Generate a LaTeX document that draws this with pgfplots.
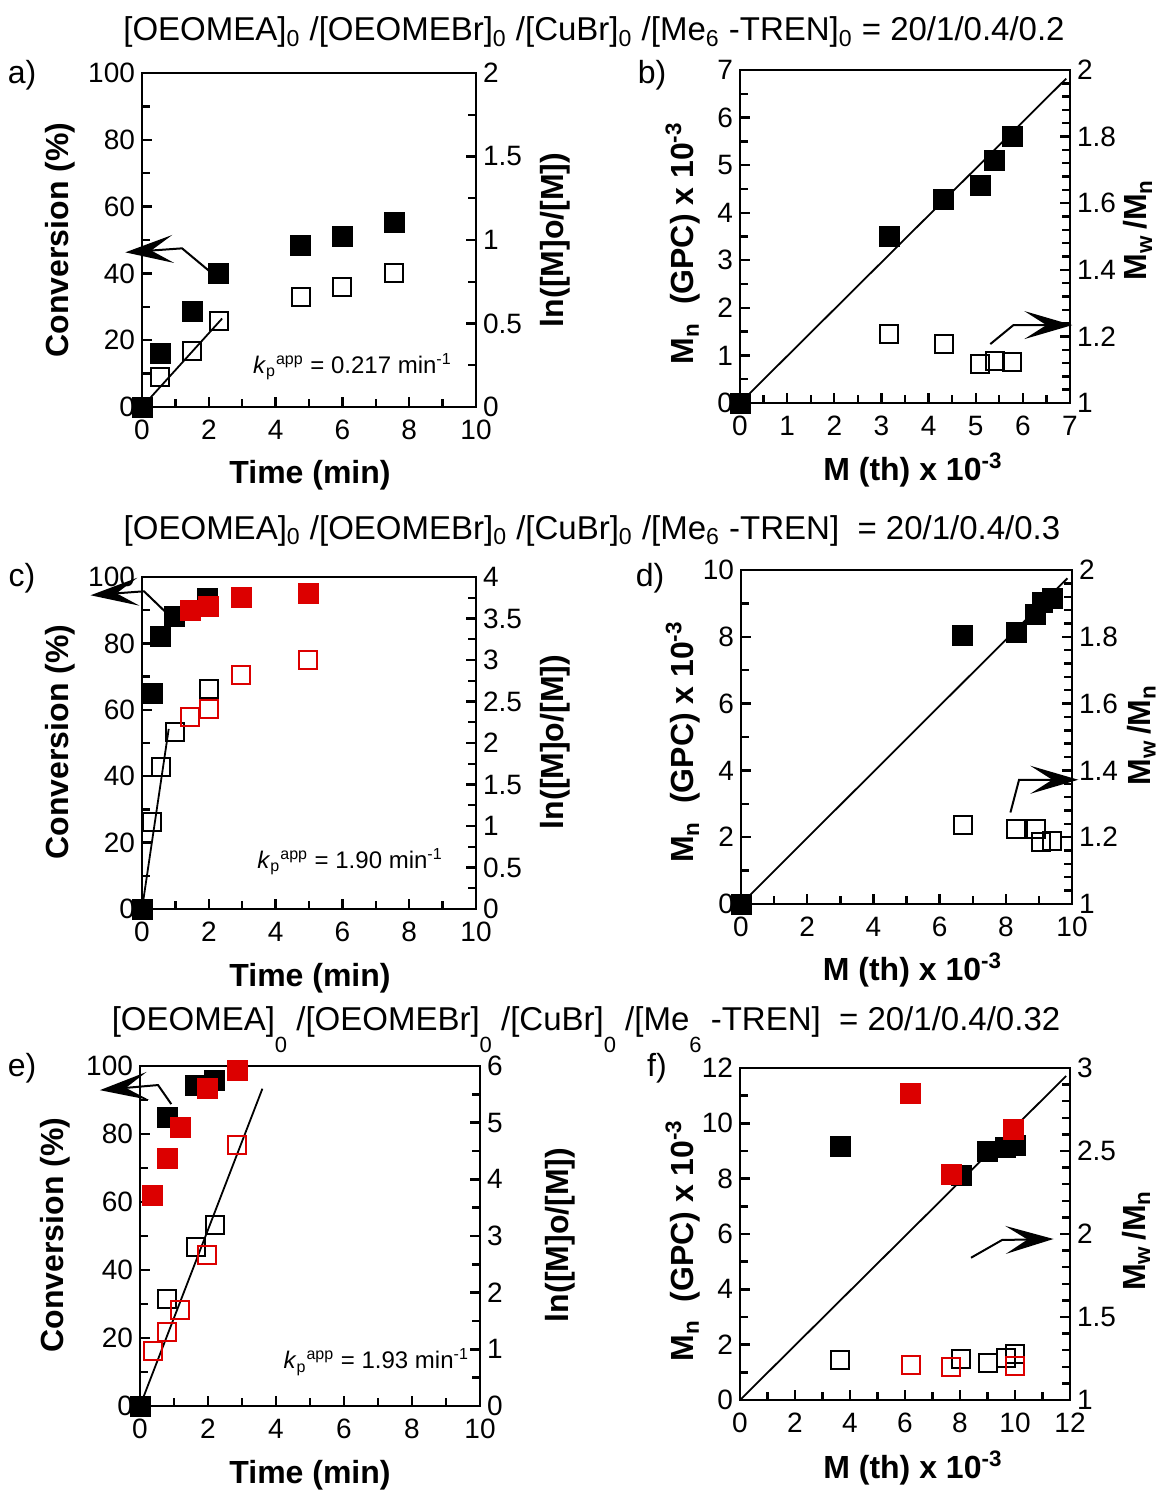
\documentclass[border=0pt]{standalone}
\usepackage{fontspec}
\setmainfont{Liberation Sans}
\usepackage{pgfplots}
\pgfplotsset{compat=1.18}
\usetikzlibrary{arrows.meta}
\definecolor{mred}{RGB}{220,0,0}

\pgfplotsset{
  pan/.style={
    scale only axis, clip=false, anchor=south west,
    axis line style={line width=1.4pt},
    tick align=inside,
    major tick length=5pt, minor tick length=4pt,
    tick style={line width=1.2pt, black},
    tick label style={font=\fontsize{14}{16}\selectfont},
    xticklabel style={yshift=-3pt},
    label style={font=\bfseries\fontsize{16}{19}\selectfont},
    /pgf/number format/assume math mode=true,
  },
  main/.style={pan, xtick pos=left, ytick pos=left},
  second/.style={pan, axis y line*=right, axis x line=none},
  fsq/.style={only marks, mark=square*, mark size=5pt, black},
  rfsq/.style={only marks, mark=square*, mark size=5pt, mred},
  osq/.style={only marks, mark=square, mark size=4.5pt, mark options={line width=1pt}, black},
  rosq/.style={only marks, mark=square, mark size=4.5pt, mark options={line width=1pt}, mred},
  fit/.style={black, line width=0.9pt, no marks},
}
\tikzset{arr/.style={line width=1pt, -{Stealth[length=24pt,width=14pt,inset=11pt]}}}
\newcommand\kp[1]{\textit{k}\textsubscript{p}\textsuperscript{app} = #1 min\textsuperscript{-1}}
\newcommand\lsub[1]{\raisebox{-1.3ex}{\fontsize{11}{11}\selectfont #1}}

\begin{document}
\begin{tikzpicture}
\useasboundingbox (0,0) rectangle (586.5pt,-746.5pt);

% titles and panel letters
\begin{scope}[every node/.style={font=\fontsize{16.5}{18}\selectfont}]
\node[anchor=base] at (297pt,-20.5pt) {[OEOMEA]\textsubscript{0} /[OEOMEBr]\textsubscript{0} /[CuBr]\textsubscript{0} /[Me\textsubscript{6} -TREN]\textsubscript{0} = 20/1/0.4/0.2};
\node[anchor=base] at (296pt,-269.5pt) {[OEOMEA]\textsubscript{0} /[OEOMEBr]\textsubscript{0} /[CuBr]\textsubscript{0} /[Me\textsubscript{6} -TREN]\ \ = 20/1/0.4/0.3};
\node[anchor=base] at (293pt,-515pt) {[OEOMEA]\lsub{0} /[OEOMEBr]\lsub{0} /[CuBr]\lsub{0} /[Me\lsub{6} -TREN]\ \ = 20/1/0.4/0.32};
\end{scope}
\begin{scope}[every node/.style={font=\fontsize{16}{18}\selectfont}]
\node at (11pt,-37.5pt) {a)};
\node at (326pt,-37.5pt) {b)};
\node at (11pt,-289pt) {c)};
\node at (325pt,-289pt) {d)};
\node at (11pt,-534pt) {e)};
\node at (328.5pt,-534pt) {f)};
\end{scope}

% ---------- a) ----------
\begin{axis}[main, at={(71pt,-203.5pt)}, width=167pt, height=167pt,
  xmin=0, xmax=10, ymin=0, ymax=100,
  xtick={0,2,...,10}, ytick={0,20,...,100}, minor tick num=1,
  xlabel={Time (min)}, ylabel={Conversion (\%)},
  xlabel style={at={(axis description cs:0.503,-0.204)}, anchor=center},
  ylabel style={at={(axis description cs:-0.246,0.5)}, anchor=center}]
\addplot[fsq] coordinates {(0,0) (0.55,16) (1.5,28.5) (2.3,40) (4.75,48.3) (6,51.2) (7.55,55.2)};
\draw[arr] (2.1,40) -- (1.2,47.5) -- (-0.5,46.3);
\node[font=\fontsize{12}{14}\selectfont] at (6.3,12) {\kp{0.217}};
\end{axis}
\begin{axis}[second, at={(71pt,-203.5pt)}, width=167pt, height=167pt,
  xmin=0, xmax=10, ymin=0, ymax=2,
  ytick={0,0.5,...,2}, minor y tick num=1,
  ylabel={ln([M]o/[M])},
  ylabel style={at={(axis description cs:1.237,0.5)}, anchor=center, rotate=0}]
\addplot[fit] coordinates {(0,0) (2.4,0.53)};
\addplot[osq] coordinates {(0.55,0.18) (1.5,0.335) (2.3,0.515) (4.75,0.66) (6,0.72) (7.55,0.80)};
\end{axis}

% ---------- b) ----------
\begin{axis}[main, at={(370pt,-201.5pt)}, width=165pt, height=166.5pt,
  xmin=0, xmax=7, ymin=0, ymax=7,
  xtick={0,1,...,7}, ytick={0,1,...,7}, minor tick num=1,
  xlabel={M (th) x 10\textsuperscript{-3}}, ylabel={M\textsubscript{n}\ \ (GPC) x 10\textsuperscript{-3}},
  xlabel style={at={(axis description cs:0.524,-0.201)}, anchor=center},
  ylabel style={at={(axis description cs:-0.173,0.48)}, anchor=center}]
\addplot[fit] coordinates {(0,0) (6.92,6.82)};
\addplot[fsq] coordinates {(0,0) (3.17,3.5) (4.32,4.28) (5.1,4.58) (5.4,5.1) (5.77,5.6)};
\end{axis}
\begin{axis}[second, at={(370pt,-201.5pt)}, width=165pt, height=166.5pt,
  xmin=0, xmax=7, ymin=1, ymax=2,
  ytick={1,1.2,1.4,1.6,1.8,2}, minor y tick num=4,
  ylabel={M\textsubscript{w}\,/M\textsubscript{n}},
  ylabel style={at={(axis description cs:1.206,0.52)}, anchor=center, rotate=0}]
\addplot[osq] coordinates {(3.17,1.208) (4.32,1.178) (5.1,1.118) (5.41,1.127) (5.77,1.122)};
\draw[arr] (5.31,1.177) -- (5.8,1.234) -- (7.05,1.234);
\end{axis}

% ---------- c) ----------
\begin{axis}[main, at={(71pt,-454.5pt)}, width=167pt, height=166pt,
  xmin=0, xmax=10, ymin=0, ymax=100,
  xtick={0,2,...,10}, ytick={0,20,...,100}, minor tick num=1,
  xlabel={Time (min)}, ylabel={Conversion (\%)},
  xlabel style={at={(axis description cs:0.503,-0.208)}, anchor=center},
  ylabel style={at={(axis description cs:-0.246,0.503)}, anchor=center}]
\addplot[fsq] coordinates {(0,0) (0.3,65) (0.56,82) (0.98,88) (1.97,93.5)};
\addplot[rfsq] coordinates {(1.45,90) (2.0,91) (2.97,94) (4.98,95)};
\draw[arr] (0.69,89.6) -- (0.06,95.7) -- (-1.54,94.5);
\node[font=\fontsize{12}{14}\selectfont] at (6.23,14.2) {\kp{1.90}};
\end{axis}
\begin{axis}[second, at={(71pt,-454.5pt)}, width=167pt, height=166pt,
  xmin=0, xmax=10, ymin=0, ymax=4,
  ytick={0,0.5,...,4}, minor y tick num=1,
  ylabel={ln([M]o/[M])},
  ylabel style={at={(axis description cs:1.237,0.503)}, anchor=center, rotate=0}]
\addplot[fit] coordinates {(0,0) (0.8,2.17)};
\addplot[osq] coordinates {(0.29,1.05) (0.57,1.71) (0.99,2.13) (2.0,2.65)};
\addplot[rosq] coordinates {(1.45,2.31) (2.0,2.41) (2.97,2.82) (4.98,3.0)};
\end{axis}

% ---------- d) ----------
\begin{axis}[main, at={(370.5pt,-452pt)}, width=165.5pt, height=167pt,
  xmin=0, xmax=10, ymin=0, ymax=10,
  xtick={0,2,...,10}, ytick={0,2,...,10}, minor tick num=1,
  xlabel={M (th) x 10\textsuperscript{-3}}, ylabel={M\textsubscript{n}\ \ (GPC) x 10\textsuperscript{-3}},
  xlabel style={at={(axis description cs:0.518,-0.198)}, anchor=center},
  ylabel style={at={(axis description cs:-0.175,0.485)}, anchor=center}]
\addplot[fit] coordinates {(0,0) (9.86,9.75)};
\addplot[fsq] coordinates {(0,0) (6.7,8.03) (8.32,8.13) (8.9,8.68) (9.1,9.03) (9.4,9.15)};
\end{axis}
\begin{axis}[second, at={(370.5pt,-452pt)}, width=165.5pt, height=167pt,
  xmin=0, xmax=10, ymin=1, ymax=2,
  ytick={1,1.2,1.4,1.6,1.8,2}, minor y tick num=4,
  ylabel={M\textsubscript{w}\,/M\textsubscript{n}},
  ylabel style={at={(axis description cs:1.21,0.506)}, anchor=center, rotate=0}]
\addplot[osq] coordinates {(6.7,1.238) (8.32,1.225) (8.9,1.225) (9.06,1.187) (9.41,1.188)};
\draw[arr] (8.14,1.274) -- (8.4,1.372) -- (10.19,1.372);
\end{axis}

% ---------- e) ----------
\begin{axis}[main, at={(70pt,-703pt)}, width=170pt, height=170pt,
  xmin=0, xmax=10, ymin=0, ymax=100,
  xtick={0,2,...,10}, ytick={0,20,...,100}, minor tick num=1,
  xlabel={Time (min)}, ylabel={Conversion (\%)},
  xlabel style={at={(axis description cs:0.5,-0.203)}, anchor=center},
  ylabel style={at={(axis description cs:-0.25,0.503)}, anchor=center}]
\addplot[fsq] coordinates {(0,0) (0.8,85) (1.62,94.2) (2.2,95.7)};
\addplot[rfsq] coordinates {(0.37,62) (0.8,72.8) (1.18,81.9) (1.98,93.3) (2.86,98.7)};
\draw[arr] (0.92,88.8) -- (0.53,94.4) -- (-1.18,92.9);
\node[font=\fontsize{12}{14}\selectfont] at (6.95,12.9) {\kp{1.93}};
\end{axis}
\begin{axis}[second, at={(70pt,-703pt)}, width=170pt, height=170pt,
  xmin=0, xmax=10, ymin=0, ymax=6,
  ytick={0,1,...,6}, minor y tick num=1,
  ylabel={ln([M]o/[M])},
  ylabel style={at={(axis description cs:1.235,0.503)}, anchor=center, rotate=0}]
\addplot[fit] coordinates {(0,0) (3.6,5.6)};
\addplot[osq] coordinates {(0.8,1.88) (1.64,2.81) (2.2,3.2)};
\addplot[rosq] coordinates {(0.37,0.97) (0.8,1.3) (1.18,1.7) (1.98,2.66) (2.86,4.6)};
\end{axis}

% ---------- f) ----------
\begin{axis}[main, at={(370pt,-700pt)}, width=165pt, height=166pt,
  xmin=0, xmax=12, ymin=0, ymax=12,
  xtick={0,2,...,12}, ytick={0,2,...,12}, minor tick num=1,
  xlabel={M (th) x 10\textsuperscript{-3}}, ylabel={M\textsubscript{n}\ \ (GPC) x 10\textsuperscript{-3}},
  xlabel style={at={(axis description cs:0.524,-0.205)}, anchor=center},
  ylabel style={at={(axis description cs:-0.173,0.48)}, anchor=center}]
\addplot[fit] coordinates {(0,0) (11.86,11.71)};
\addplot[fsq] coordinates {(3.65,9.15) (8.05,8.12) (9.0,8.98) (9.65,9.12) (10.0,9.2)};
\addplot[rfsq] coordinates {(6.2,11.1) (7.67,8.15) (9.93,9.78)};
\end{axis}
\begin{axis}[second, at={(370pt,-700pt)}, width=165pt, height=166pt,
  xmin=0, xmax=12, ymin=1, ymax=3,
  ytick={1,1.5,...,3}, minor y tick num=4,
  ylabel={M\textsubscript{w}\,/M\textsubscript{n}},
  ylabel style={at={(axis description cs:1.2,0.48)}, anchor=center, rotate=0}]
\addplot[osq] coordinates {(3.65,1.242) (8.05,1.25) (9.02,1.226) (9.68,1.253) (10.0,1.28)};
\addplot[rosq] coordinates {(6.2,1.209) (7.67,1.2) (10.0,1.204)};
\draw[arr] (8.4,1.857) -- (9.53,1.964) -- (11.4,1.97);
\end{axis}
\end{tikzpicture}
\end{document}
